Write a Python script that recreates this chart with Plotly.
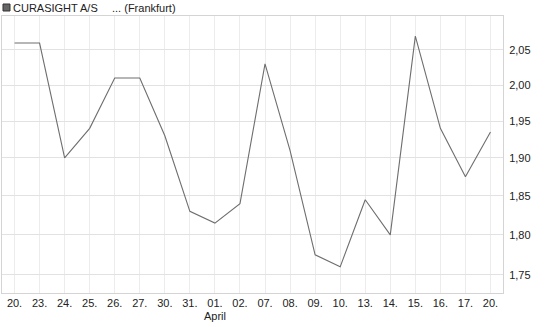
import plotly.graph_objects as go
import math

# Data
dates = ["20.", "23.", "24.", "25.", "26.", "27.", "30.", "31.", "01.", "02.",
         "07.", "08.", "09.", "10.", "13.", "14.", "15.", "16.", "17.", "20."]
prices = [2.06, 2.06, 1.90, 1.94, 2.01, 2.01, 1.93, 1.83, 1.815, 1.84,
          2.03, 1.91, 1.775, 1.76, 1.845, 1.80, 2.07, 1.94, 1.875, 1.935]
y_ticks = [1.75, 1.80, 1.85, 1.90, 1.95, 2.00, 2.05]
y_ticktext = ["1,75", "1,80", "1,85", "1,90", "1,95", "2,00", "2,05"]
month_label = "April"
title_name = "CURASIGHT A/S"
title_place = "... (Frankfurt)"

W, H = 545, 327
ML, MR, MT, MB = 2, 42, 16, 34
PW, PH = W - ML - MR, H - MT - MB

def px_x(p):
    return (p - ML) / PW

def px_y(p):
    return 1 - (p - MT) / PH

idx = list(range(len(dates)))

fig = go.Figure()
fig.add_trace(go.Scatter(
    x=idx, y=prices, mode="lines",
    line=dict(color="#6e6e6e", width=1.1),
    hoverinfo="skip", showlegend=False,
))

font_family = "Liberation Sans, Arial, sans-serif"

fig.update_layout(
    width=W, height=H,
    margin=dict(l=ML, r=MR, t=MT, b=MB, pad=0),
    paper_bgcolor="white", plot_bgcolor="white",
    font=dict(family=font_family, size=11, color="#222222"),
    xaxis=dict(
        range=[-0.5, len(dates) - 0.5],
        tickmode="array", tickvals=idx, ticktext=dates,
        showgrid=True, gridcolor="#ececec", gridwidth=1,
        showline=True, linecolor="#d4d4d4", linewidth=1, mirror=True,
        ticks="", zeroline=False,
        tickfont=dict(size=11, color="#222222"),
    ),
    yaxis=dict(
        type="log", side="right",
        range=[math.log10(1.7279), math.log10(2.0995)],
        tickmode="array", tickvals=y_ticks, ticktext=y_ticktext,
        showgrid=True, gridcolor="#e2e2e2", gridwidth=1,
        showline=True, linecolor="#d4d4d4", linewidth=1, mirror=True,
        ticks="outside", ticklen=3, tickcolor="#ffffff",
        zeroline=False,
        tickfont=dict(size=11, color="#222222"),
    ),
    shapes=[
        dict(type="rect", xref="paper", yref="paper",
             x0=px_x(3), x1=px_x(10), y0=px_y(11), y1=px_y(4),
             fillcolor="#666666", line=dict(color="#333333", width=1)),
    ],
    annotations=[
        dict(text=title_name, xref="paper", yref="paper",
             x=px_x(11), y=px_y(8), xanchor="left", yanchor="middle",
             showarrow=False, font=dict(size=11, color="#222222")),
        dict(text=title_place, xref="paper", yref="paper",
             x=px_x(110), y=px_y(8), xanchor="left", yanchor="middle",
             showarrow=False, font=dict(size=11, color="#222222")),
        dict(text=month_label, xref="x", yref="paper",
             x=8, y=px_y(316), xanchor="center", yanchor="middle",
             showarrow=False, font=dict(size=11, color="#222222")),
    ],
)

fig.write_html("out.html")
